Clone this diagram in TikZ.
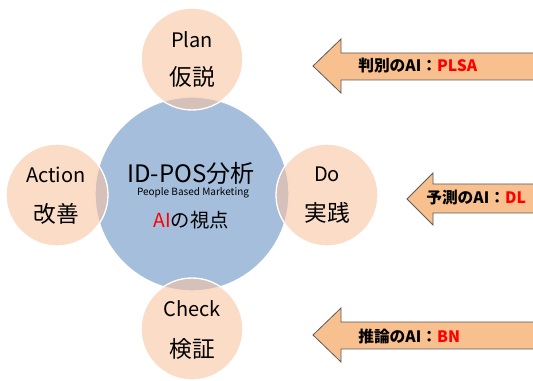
\documentclass[tikz,border=0pt]{standalone}
\usepackage{fontspec}
\setmainfont{Noto Sans CJK JP}
\definecolor{bigblue}{HTML}{A4BEDC}
\definecolor{peach}{HTML}{F6C4A2}
\definecolor{arrowfill}{HTML}{F8C08F}
\definecolor{arrowline}{HTML}{5A5A5A}
\definecolor{redtxt}{HTML}{FF0000}
\begin{document}
\begin{tikzpicture}[x=0.75pt,y=-0.75pt,
  bigc/.style={circle,fill=bigblue,draw=white,line width=1pt,minimum size=194*0.75pt,inner sep=0pt},
  smallc/.style={circle,fill=peach,fill opacity=0.6,draw=white,draw opacity=1,line width=1pt,minimum size=102*0.75pt,inner sep=0pt},
  lbl/.style={inner sep=0pt,text=black},
  arr/.style={fill=arrowfill,draw=arrowline,line width=0.6pt,line join=miter},
  atxt/.style={inner sep=0pt,anchor=west,font=\bfseries\fontsize{11.8}{14}\selectfont}]
\useasboundingbox (0,0) rectangle (533,381);
\clip (0,0) rectangle (533,381);
% big circle
\node[bigc] (main) at (192,194) {};
% small circles
\node[smallc] (plan) at (192,59) {};
\node[smallc] (act) at (57,195) {};
\node[smallc] (do) at (327,195) {};
\node[smallc] (chk) at (192,329) {};
% main texts
\node[lbl,font=\fontsize{18}{20}\selectfont] (t1) at (191,173) {ID-POS分析};
\node[lbl,font=\fontsize{7.5}{9}\selectfont] (t2) at (193,193) {People Based Marketing};
\node[lbl,font=\fontsize{14.5}{16}\selectfont] (t3) at (191,220) {\textcolor{redtxt}{AI}の視点};
% small texts
\node[lbl,font=\fontsize{15}{17}\selectfont] (p1) at (192,40) {Plan};
\node[lbl,font=\fontsize{17}{19}\selectfont] (p2) at (192,77) {仮説};
\node[lbl,font=\fontsize{15}{17}\selectfont] (a1) at (56,175) {Action};
\node[lbl,font=\fontsize{17}{19}\selectfont] (a2) at (56,214) {改善};
\node[lbl,font=\fontsize{15}{17}\selectfont] (d1) at (327,174) {Do};
\node[lbl,font=\fontsize{17}{19}\selectfont] (d2) at (327,213) {実践};
\node[lbl,font=\fontsize{15}{17}\selectfont] (c1) at (192,309) {Check};
\node[lbl,font=\fontsize{17}{19}\selectfont] (c2) at (192,349) {検証};
% arrows
\draw[arr] (313,66) -- (341,39) -- (341,53) -- (540,53) -- (540,80) -- (341,80) -- (341,93) -- cycle;
\draw[arr] (407,199) -- (433,173) -- (433,184) -- (540,184) -- (540,213) -- (433,213) -- (433,225) -- cycle;
\draw[arr] (313,335) -- (341,308) -- (341,322) -- (540,322) -- (540,349) -- (341,349) -- (341,362) -- cycle;
\node[atxt] (l1) at (358,66) {判別のAI：\textcolor{redtxt}{PLSA}};
\node[atxt] (l2) at (426,198) {予測のAI：\textcolor{redtxt}{DL}};
\node[atxt] (l3) at (358,336) {推論のAI：\textcolor{redtxt}{BN}};
\end{tikzpicture}
\end{document}
